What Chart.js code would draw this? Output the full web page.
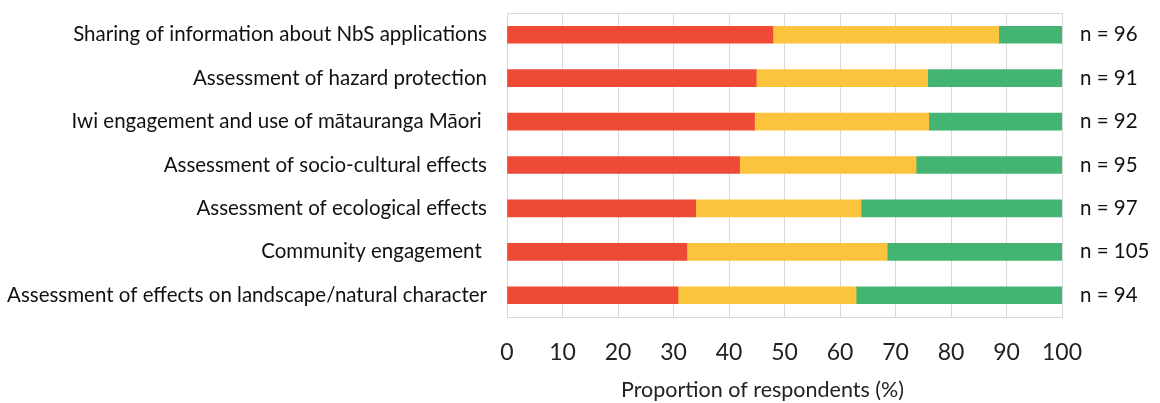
<!DOCTYPE html>
<html>
<head>
<meta charset="utf-8">
<script src="https://cdn.jsdelivr.net/npm/chart.js@4"></script>
<style>
  html, body { margin: 0; padding: 0; background: #fff; }
  #wrap { width: 1160px; height: 403px; }
</style>
</head>
<body>
<div id="wrap"><canvas id="myChart" width="1160" height="403"></canvas></div>
<script>
const categories = [
  "Sharing of information about NbS applications",
  "Assessment of hazard protection",
  "Iwi engagement and use of mātauranga Māori ",
  "Assessment of socio-cultural effects",
  "Assessment of ecological effects",
  "Community engagement ",
  "Assessment of effects on landscape/natural character"
];
const nLabels = ["n = 96", "n = 91", "n = 92", "n = 95", "n = 97", "n = 105", "n = 94"];
const redValues = [47.9, 44.9, 44.6, 41.9, 34.0, 32.4, 30.8];
const yellowValues = [40.7, 30.9, 31.4, 31.8, 29.8, 36.1, 32.1];
const greenValues = [11.4, 24.2, 24.0, 26.3, 36.2, 31.5, 37.1];
const xTicks = [0, 10, 20, 30, 40, 50, 60, 70, 80, 90, 100];

const font = "Lato";
const gridColor = "#d9d9d9";

// box round the plot area
const frame = {
  id: "frame",
  beforeDatasetsDraw(chart) {
    const a = chart.chartArea;
    const ctx = chart.ctx;
    ctx.save();
    ctx.strokeStyle = gridColor;
    ctx.lineWidth = 1;
    ctx.strokeRect(Math.round(a.left) + 0.5, Math.round(a.top) + 0.5,
      Math.round(a.right - a.left), Math.round(a.bottom - a.top));
    ctx.restore();
  }
};

// category axes: no extra padding above/below, fixed width
function fitSide(width) {
  return s => {
    s.width = width;
    s.paddingTop = 0;
    s.paddingBottom = 0;
  };
}

const ctx = document.getElementById("myChart");
new Chart(ctx, {
  type: "bar",
  data: {
    labels: categories,
    datasets: [
      { data: redValues, backgroundColor: "#ee4a36" },
      { data: yellowValues, backgroundColor: "#fcc43c" },
      { data: greenValues, backgroundColor: "#44b472" }
    ]
  },
  options: {
    indexAxis: "y",
    responsive: false,
    animation: false,
    maintainAspectRatio: false,
    layout: { padding: { top: 13, bottom: 0, left: 0, right: 0 } },
    datasets: { bar: { barThickness: 17 } },
    plugins: { legend: { display: false }, tooltip: { enabled: false } },
    scales: {
      x: {
        stacked: true,
        min: 0,
        max: 100,
        afterBuildTicks: s => { s.ticks = xTicks.map(v => ({ value: v })); },
        grid: { color: gridColor, drawTicks: false },
        border: { display: false },
        ticks: { padding: 22, color: "#222", font: { family: font, size: 23 } },
        title: {
          display: true,
          // trailing spaces nudge the centred title a little left, as in the original
          text: "Proportion of respondents (%)        ",
          color: "#222",
          padding: { top: 6, bottom: 0 },
          font: { family: font, size: 21.5 }
        },
        afterFit: s => { s.height = 86; }
      },
      y: {
        stacked: true,
        grid: { display: false, drawTicks: false },
        border: { display: false },
        ticks: { padding: 20, color: "#111", font: { family: font, size: 20.5 } },
        afterFit: fitSide(507)
      },
      y2: {
        type: "category",
        position: "right",
        labels: nLabels,
        grid: { display: false, drawTicks: false },
        border: { display: false },
        ticks: { padding: 18, color: "#111", font: { family: font, size: 20.5 } },
        afterFit: fitSide(98)
      }
    }
  },
  plugins: [frame]
});
</script>
</body>
</html>
